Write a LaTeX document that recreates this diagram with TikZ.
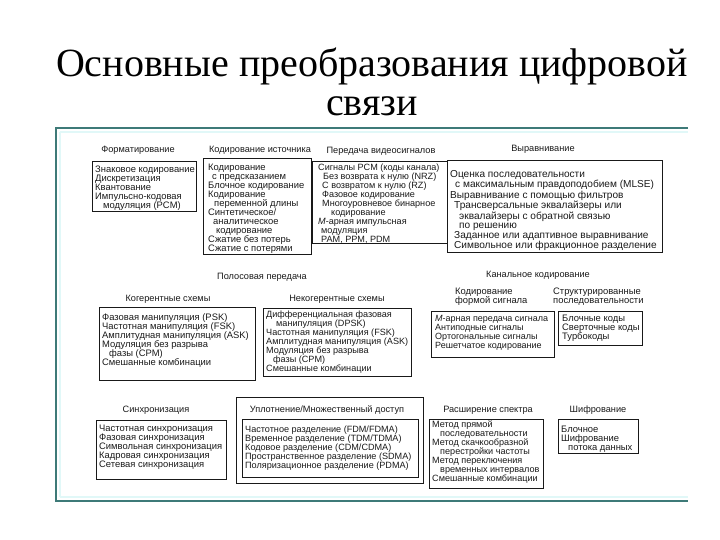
\documentclass[tikz,border=0pt]{standalone}
\usepackage{fontspec}
\setmainfont{Liberation Serif}
\newfontfamily\diagfont{Liberation Sans}
\definecolor{frameteal}{RGB}{62,122,120}
\definecolor{frameglow}{RGB}{225,248,248}
\definecolor{ink}{RGB}{25,25,25}
\tikzset{
  box/.style={draw=ink, line width=0.9pt, inner sep=0pt, anchor=north west},
  txt/.style={anchor=north west, inner sep=0pt, align=left, text=ink, font=\diagfont\fontsize{9.4}{9}\selectfont},
  txtm/.style={txt, font=\diagfont\fontsize{9.1}{9}\selectfont},
  txtn/.style={txt, font=\diagfont\fontsize{9}{9}\selectfont},
  txtw/.style={txt, font=\diagfont\fontsize{10.1}{9}\selectfont},
  head/.style={inner sep=0pt, text=ink, font=\diagfont\fontsize{9.2}{9}\selectfont},
  ttl/.style={inner sep=0pt, anchor=base, font=\fontsize{40}{40}\selectfont},
}
\newcommand{\ind}[1]{\hspace*{#1pt}}
\begin{document}
\begin{tikzpicture}[x=1pt,y=-1pt]
\useasboundingbox (0,0) rectangle (720,540);
% title
\node[ttl] (title1) at (372,77) {Основные преобразования цифровой};
\node[ttl] (title2) at (372,116) {связи};
% frame
\draw[frameglow, line width=2pt] (60,132) -- (688,132);
\draw[frameglow, line width=2pt] (60,132) -- (60,497);
\draw[frameglow, line width=2pt] (60,497) -- (688,497);
\draw[frameteal, line width=2.2pt] (688,128) -- (56,128) -- (56,501) -- (688,501);

% ---------- row 1 ----------
\node[head] (h1) at (138,150) {Форматирование};
\node[head] (h2) at (260,150) {Кодирование источника};
\node[head] (h3) at (381,151) {Передача видеосигналов};
\node[head] (h4) at (543,149) {Выравнивание};

\node[box, minimum width=104pt, minimum height=50pt] (b1) at (92,161) {};
\node[txt] (t1) at (95,166) {Знаковое кодирование\\Дискретизация\\Квантование\\Импульсно-кодовая\\\ind{8}модуляция (PCM)};

\node[box, minimum width=108pt, minimum height=96pt] (b2) at (203,158) {};
\node[txt] (t2) at (208,164) {Кодирование\\\ind{4}с предсказанием\\Блочное кодирование\\Кодирование\\\ind{6}переменной длины\\Синтетическое/\\\ind{5}аналитическое\\\ind{8}кодирование\\Сжатие без потерь\\Сжатие с потерями};

\node[box, minimum width=135pt, minimum height=82pt] (b3) at (312,161) {};
\node[txtm] (t3) at (318,164) {Сигналы PCM (коды канала)\\\ind{5}Без возврата к нулю (NRZ)\\\ind{4}С возвратом к нулю (RZ)\\\ind{4}Фазовое кодирование\\\ind{4}Многоуровневое бинарное\\\ind{13}кодирование\\\textit{M}-арная импульсная\\\ind{3}модуляция\\\ind{3}PAM, PPM, PDM};

\node[box, minimum width=215pt, minimum height=92pt] (b4) at (447,160) {};
\node[txtw] (t4) at (450,170) {Оценка последовательности\\\ind{5}с максимальным правдоподобием (MLSE)\\Выравнивание с помощью фильтров\\\ind{4}Трансверсальные эквалайзеры или\\\ind{9}эквалайзеры с обратной связью\\\ind{9}по решению\\\ind{4}Заданное или адаптивное выравнивание\\\ind{4}Символьное или фракционное разделение};

% ---------- row 2 ----------
\node[head] (h5) at (262,277) {Полосовая передача};
\node[head] (h6) at (538,275) {Канальное кодирование};
\node[head] (h7) at (168,299) {Когерентные схемы};
\node[head] (h8) at (337,299) {Некогерентные схемы};
\node[txt] (h9) at (455,288) {Кодирование\\формой сигнала};
\node[txt] (h10) at (553,288) {Структурированные\\последовательности};

\node[box, minimum width=156pt, minimum height=73pt] (b5) at (99,307) {};
\node[txt] (t5) at (102,313) {Фазовая манипуляция (PSK)\\Частотная манипуляция (FSK)\\Амплитудная манипуляция (ASK)\\Модуляция без разрыва\\\ind{7}фазы (CPM)\\Смешанные комбинации};

\node[box, minimum width=148pt, minimum height=68pt] (b6) at (263,308) {};
\node[txtm] (t6) at (266,311) {Дифференциальная фазовая\\\ind{10}манипуляция (DPSK)\\Частотная манипуляция (FSK)\\Амплитудная манипуляция (ASK)\\Модуляция без разрыва\\\ind{7}фазы (CPM)\\Смешанные комбинации};

\node[box, minimum width=123pt, minimum height=46pt] (b7) at (431,311) {};
\node[txtn] (t7) at (435,315) {\textit{M}-арная передача сигнала\\Антиподные сигналы\\Ортогональные сигналы\\Решетчатое кодирование};

\node[box, minimum width=84pt, minimum height=34pt] (b8) at (558,311) {};
\node[txt] (t8) at (562,315) {Блочные коды\\Сверточные коды\\Турбокоды};

% ---------- row 3 ----------
\node[head] (h11) at (156,410) {Синхронизация};
\node[head] (h12) at (327,410) {Уплотнение/Множественный доступ};
\node[head] (h13) at (488,410) {Расширение спектра};
\node[head] (h14) at (598,410) {Шифрование};

\node[box, minimum width=130pt, minimum height=59pt] (b9) at (96,420) {};
\node[txt] (t9) at (99,425) {Частотная синхронизация\\Фазовая синхронизация\\Символьная синхронизация\\Кадровая синхронизация\\Сетевая синхронизация};

\node[box, minimum width=187pt, minimum height=86pt] (b10) at (236,397) {};
\node[box, minimum width=176pt, minimum height=58pt] (b10in) at (242,419) {};
\node[txtm] (t10) at (245,426) {Частотное разделение (FDM/FDMA)\\Временное разделение (TDM/TDMA)\\Кодовое разделение (CDM/CDMA)\\Пространственное разделение (SDMA)\\Поляризационное разделение (PDMA)};

\node[box, minimum width=114pt, minimum height=69pt] (b11) at (429,419) {};
\node[txtm] (t11) at (432,421) {Метод прямой\\\ind{8}последовательности\\Метод скачкообразной\\\ind{8}перестройки частоты\\Метод переключения\\\ind{8}временных интервалов\\Смешанные комбинации};

\node[box, minimum width=80pt, minimum height=34pt] (b12) at (558,419) {};
\node[txt] (t12) at (561,426) {Блочное\\Шифрование\\\ind{7}потока данных};
\end{tikzpicture}
\end{document}
